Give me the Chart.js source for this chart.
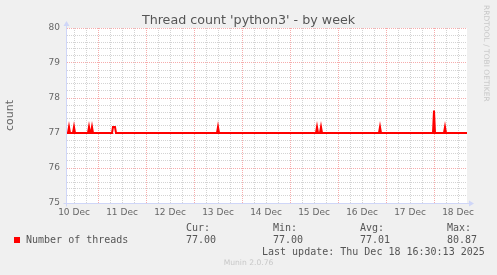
<!DOCTYPE html>
<html><head><meta charset="utf-8">
<script src="https://cdn.jsdelivr.net/npm/chart.js@4/dist/chart.umd.min.js"></script>
<style>
html,body{margin:0;padding:0;background:#f0f0f0}
#box{position:relative;width:497px;height:275px;overflow:hidden;font-family:"DejaVu Sans",sans-serif;color:#666}
#c{position:absolute;left:0;top:0}
.t{position:absolute;white-space:pre;line-height:12px}
.m{font-family:"DejaVu Sans Mono",monospace;font-size:10px;color:#555}
</style></head><body>
<div id="box">
<canvas id="c" width="497" height="275"></canvas>
<div class="t" style="left:0;width:497px;text-align:center;top:12px;font-size:12.7px;line-height:15px;color:#555">Thread count 'python3' - by week</div>
<div class="t" style="left:491px;top:5px;font-size:7.5px;line-height:9px;color:#c8c8c8;transform-origin:0 0;transform:rotate(90deg)">RRDTOOL / TOBI OETIKER</div>
<div style="position:absolute;left:14px;top:237px;width:6px;height:6px;background:#f00"></div>
<div class="t m" style="left:26px;top:234px">Number of threads</div>
<div class="t m" style="left:186px;top:222px">Cur:</div>
<div class="t m" style="left:273px;top:222px">Min:</div>
<div class="t m" style="left:360px;top:222px">Avg:</div>
<div class="t m" style="left:447px;top:222px">Max:</div>
<div class="t m" style="left:186px;top:234px">77.00</div>
<div class="t m" style="left:273px;top:234px">77.00</div>
<div class="t m" style="left:360px;top:234px">77.01</div>
<div class="t m" style="left:447px;top:234px">80.87</div>
<div class="t m" style="left:262px;top:246px">Last update: Thu Dec 18 16:30:13 2025</div>
<div class="t" style="left:0;width:497px;text-align:center;top:257px;font-size:7.6px;color:#c8c8c8">Munin 2.0.76</div>
</div>
<script>
// horas desde 10 Dec 00:00
const horaIni=8.5, horaFim=208.5;
const dias=["10 Dec","11 Dec","12 Dec","13 Dec","14 Dec","15 Dec","16 Dec","17 Dec","18 Dec"];
const yRotulos=[75,76,77,78,79,80];
const horas=[8.5,9,9.5,10, 11.5,12,12.5, 19,19.5,20, 20.5,21,21.5, 31,31.5,32.5,33,
  83.5,84,84.5, 133,133.5,134, 135,135.5,136, 164.5,165,165.5, 191.5,192,192.5, 197,197.5,198, 208.5];
const threads=[77,77,77.17,77, 77,77.17,77, 77,77.17,77, 77,77.17,77, 77,77.17,77.17,77,
  77,77.17,77, 77,77.17,77, 77,77.17,77, 77,77.17,77, 77,77.64,77, 77,77.17,77, 77];

const MAIOR="rgba(235,70,70,0.45)",MENOR="rgba(140,140,140,0.38)",EIXO="#CFD6F8";
const fonte={family:"DejaVu Sans",size:9};

const gradeX=[];for(let h=12;h<horaFim;h+=6)gradeX.push(h);
const gradeY=[];for(let i=0;i<=25;i++)gradeY.push(Math.round((75+i*0.2)*10)/10);

const fundo={id:"fundo",beforeDraw(ch){const{ctx,chartArea:a}=ch;ctx.save();ctx.fillStyle="#fff";
  ctx.fillRect(a.left,a.top,a.right-a.left,a.bottom-a.top);ctx.restore();}};
const eixos={id:"eixos",afterDatasetsDraw(ch){const{ctx,chartArea:a}=ch;ctx.save();
  ctx.strokeStyle=EIXO;ctx.fillStyle=EIXO;ctx.lineWidth=1;
  const x=Math.round(a.left)-0.5,y=Math.round(a.bottom)+0.5;
  ctx.beginPath();ctx.moveTo(x,y+3);ctx.lineTo(x,a.top-3);ctx.moveTo(x-3,y);ctx.lineTo(a.right+3,y);ctx.stroke();
  ctx.beginPath();ctx.moveTo(x-3,a.top-2);ctx.lineTo(x+3,a.top-2);ctx.lineTo(x,a.top-7);ctx.closePath();ctx.fill();
  ctx.beginPath();ctx.moveTo(a.right+2,y-3);ctx.lineTo(a.right+2,y+3);ctx.lineTo(a.right+7,y);ctx.closePath();ctx.fill();
  ctx.restore();}};

new Chart(document.getElementById("c"),{type:"line",
  data:{datasets:[{data:horas.map((h,i)=>({x:h,y:threads[i]})),borderColor:"#ff0000",borderWidth:2,
    pointRadius:0,tension:0,fill:false}]},
  options:{responsive:false,animation:false,devicePixelRatio:1,
    layout:{padding:{left:0,top:28,right:30,bottom:0}},
    plugins:{legend:{display:false},tooltip:{enabled:false}},
    scales:{
      x:{type:"linear",min:horaIni,max:horaFim,
        afterBuildTicks:s=>{s.ticks=gradeX.map(v=>({value:v}))},
        afterFit:s=>{s.height=72},
        grid:{color:c=>c.tick&&c.tick.value%24===0?MAIOR:MENOR,drawTicks:false},
        border:{display:false,dash:[1,1]},
        ticks:{autoSkip:false,maxRotation:0,padding:4,color:"#666",font:fonte,
          callback:v=>v%24===12?dias[Math.floor(v/24)]:""}},
      y:{min:75,max:80,
        afterBuildTicks:s=>{s.ticks=gradeY.map(v=>({value:v}))},
        afterFit:s=>{s.width=67},
        grid:{color:c=>c.tick&&Number.isInteger(c.tick.value)?MAIOR:MENOR,drawTicks:false},
        border:{display:false,dash:[1,1]},
        ticks:{autoSkip:false,padding:7,color:"#666",font:fonte,callback:v=>yRotulos.includes(v)?String(v):""},
        title:{display:true,text:"count",color:"#666",font:{family:"DejaVu Sans",size:11},padding:{top:4,bottom:0}}}
    }},
  plugins:[fundo,eixos]});
</script>
</body></html>
